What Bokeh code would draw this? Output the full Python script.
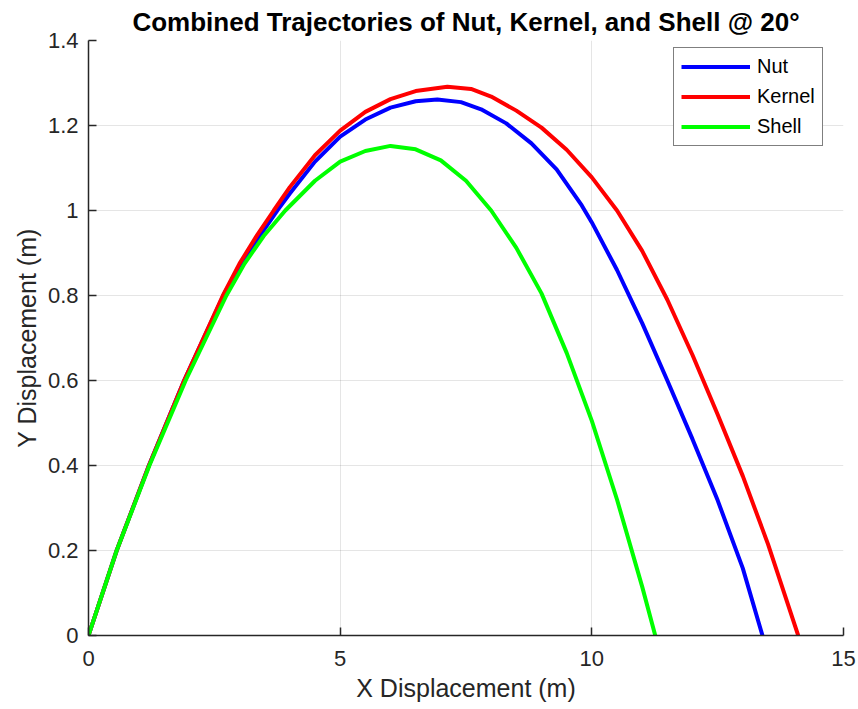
from bokeh.plotting import figure
from bokeh.models import Legend, LegendItem, FixedTicker, Range1d
from bokeh.embed import file_html
from bokeh.resources import INLINE

# Nut trajectory
nut_x = [0, 0.56, 1.20, 1.90, 2.68, 3.0, 3.4, 3.75, 4.0, 4.5, 5.0, 5.5, 6.0, 6.5, 6.93, 7.4, 7.8, 8.3, 8.8, 9.3, 9.8, 10.0, 10.5, 11.0, 11.5, 12.0, 12.5, 13.0, 13.39]
nut_y = [0, 0.2, 0.4, 0.6, 0.8, 0.87, 0.94, 1.0, 1.04, 1.115, 1.174, 1.214, 1.242, 1.257, 1.261, 1.255, 1.238, 1.205, 1.158, 1.097, 1.012, 0.972, 0.86, 0.735, 0.6, 0.462, 0.318, 0.158, 0]

# Kernel trajectory
kernel_x = [0, 0.56, 1.20, 1.90, 2.67, 3.0, 3.35, 3.68, 4.0, 4.5, 5.0, 5.5, 6.0, 6.5, 7.13, 7.6, 8.0, 8.5, 9.0, 9.5, 10.0, 10.5, 11.0, 11.5, 12.0, 12.5, 13.0, 13.5, 14.1]
kernel_y = [0, 0.2, 0.4, 0.6, 0.8, 0.875, 0.942, 1.0, 1.055, 1.13, 1.188, 1.232, 1.262, 1.281, 1.291, 1.286, 1.268, 1.235, 1.195, 1.143, 1.078, 1.0, 0.905, 0.79, 0.66, 0.52, 0.375, 0.215, 0]

# Shell trajectory
shell_x = [0, 0.56, 1.21, 1.93, 2.74, 3.1, 3.48, 3.91, 4.5, 5.0, 5.5, 6.0, 6.5, 7.0, 7.5, 8.0, 8.5, 9.0, 9.5, 10.0, 10.5, 11.0, 11.26]
shell_y = [0, 0.2, 0.4, 0.6, 0.8, 0.875, 0.94, 1.0, 1.07, 1.115, 1.140, 1.152, 1.144, 1.118, 1.07, 1.0, 0.912, 0.805, 0.665, 0.505, 0.32, 0.115, 0]

x_ticks = [0, 5, 10, 15]
y_ticks = [0, 0.2, 0.4, 0.6, 0.8, 1.0, 1.2, 1.4]
y_tick_labels = ["0", "0.2", "0.4", "0.6", "0.8", "1", "1.2", "1.4"]

FONT = "Liberation Sans"
TXT = "#262626"

p = figure(width=858, height=709, output_backend="svg", toolbar_location=None,
           x_range=Range1d(0, 15), y_range=Range1d(0, 1.4),
           min_border_left=88, min_border_right=15, min_border_top=40, min_border_bottom=74,
           title="Combined Trajectories of Nut, Kernel, and Shell @ 20°")
p.outline_line_color = None
p.background_fill_color = "white"
p.border_fill_color = "white"

p.title.align = "center"
p.title.text_font = FONT
p.title.text_font_size = "26px"
p.title.text_font_style = "bold"
p.title.text_color = "black"
p.title.standoff = 7

r1 = p.line(nut_x, nut_y, line_color="#0000ff", line_width=4)
r2 = p.line(kernel_x, kernel_y, line_color="#ff0000", line_width=4)
r3 = p.line(shell_x, shell_y, line_color="#00ff00", line_width=4)

for ax in (p.xaxis[0], p.yaxis[0]):
    ax.axis_line_color = TXT
    ax.axis_line_width = 1.5
    ax.major_tick_line_color = TXT
    ax.major_tick_line_width = 1.5
    ax.major_tick_in = 8
    ax.major_tick_out = 0
    ax.minor_tick_line_color = None
    ax.major_label_text_font = FONT
    ax.major_label_text_font_size = "22px"
    ax.major_label_text_color = TXT
    ax.axis_label_text_font = FONT
    ax.axis_label_text_font_size = "25px"
    ax.axis_label_text_font_style = "normal"
    ax.axis_label_text_color = TXT

p.xaxis.ticker = FixedTicker(ticks=x_ticks)
p.yaxis.ticker = FixedTicker(ticks=y_ticks)
p.yaxis.major_label_overrides = {t: l for t, l in zip(y_ticks, y_tick_labels)}
p.xaxis.axis_label = "X Displacement (m)"
p.yaxis.axis_label = "Y Displacement (m)"
p.xaxis.major_label_standoff = 15
p.yaxis.major_label_standoff = 10
p.xaxis.axis_label_standoff = 5
p.yaxis.axis_label_standoff = 4

p.grid.grid_line_color = "#262626"
p.grid.grid_line_alpha = 0.12
p.grid.grid_line_width = 1

legend = Legend(items=[LegendItem(label="Nut", renderers=[r1]),
                       LegendItem(label="Kernel", renderers=[r2]),
                       LegendItem(label="Shell", renderers=[r3])],
                location=(585, 489))
legend.border_line_color = "black"
legend.border_line_width = 1
legend.background_fill_color = "white"
legend.background_fill_alpha = 1
legend.label_text_font = FONT
legend.label_text_font_size = "20px"
legend.label_text_color = "black"
legend.glyph_width = 69
legend.glyph_height = 21
legend.label_height = 21
legend.spacing = 7
legend.padding = 7
legend.margin = 0
legend.label_standoff = 7
p.add_layout(legend, "center")

open("out.html", "w").write(file_html(p, INLINE))
